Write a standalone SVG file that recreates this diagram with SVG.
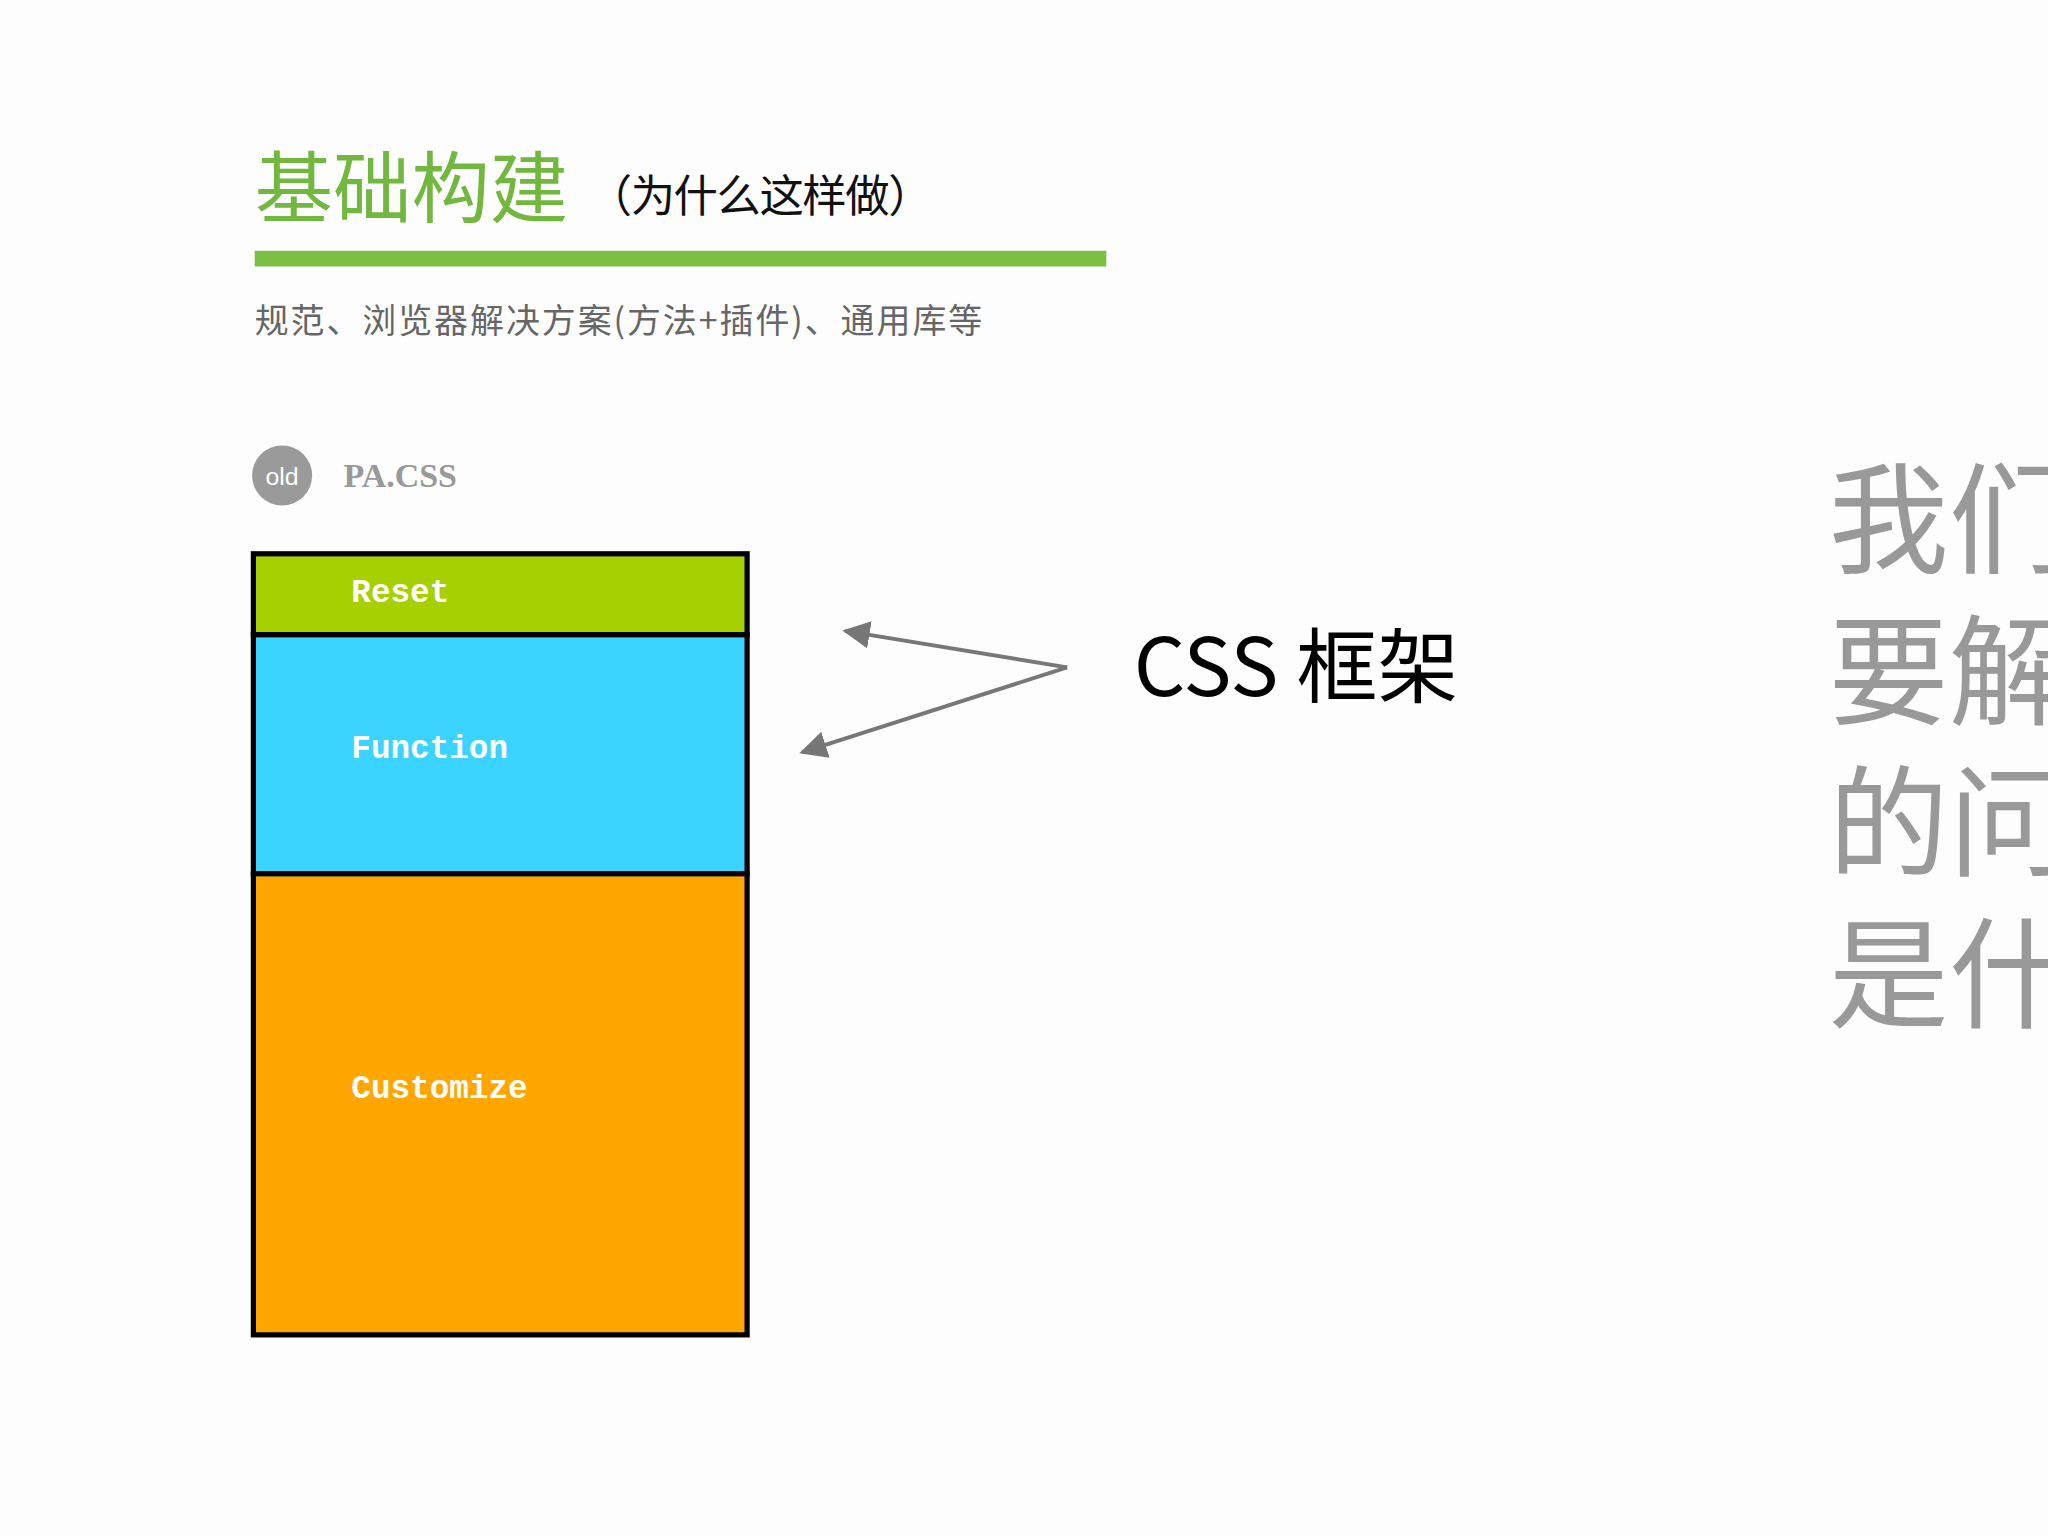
<svg xmlns="http://www.w3.org/2000/svg" width="2048" height="1536" viewBox="0 0 2048 1536">
<style>
.cjk{font-family:"Noto Sans CJK SC","Noto Sans",sans-serif}
.lbl{font-family:"Liberation Mono",monospace;font-weight:bold;fill:#fff;font-size:25px}
.blk{stroke:#000;stroke-width:4}
.conn{stroke:#777;stroke-width:3;fill:none}
</style>
<defs><marker id="ah" viewBox="0 0 10 10" refX="9" refY="5" markerWidth="7" markerHeight="7" orient="auto"><path d="M0,0L10,5L0,10z" fill="#777"/></marker></defs>
<rect width="2048" height="1536" fill="#fdfdfd"/>
<g transform="scale(1.30612)">
<g id="title">
<text x="195" y="166" class="cjk" font-size="60" fill="#72b83e">基础构建</text>
<text x="450" y="162" class="cjk" font-size="34" fill="#111" textLength="264">（为什么这样做）</text>
<rect x="195" y="192" width="652" height="12" fill="#7bc043"/>
<text x="195" y="255" class="cjk" font-size="26" fill="#666" textLength="557">规范、浏览器解决方案(方法+插件)、通用库等</text>
</g>
<g id="badge">
<circle cx="216" cy="364" r="23" fill="#9a9a9a"/>
<text x="216" y="371" text-anchor="middle" font-family="Liberation Sans,sans-serif" font-size="19" fill="#fff">old</text>
<text x="263" y="373" font-family="Liberation Serif,serif" font-weight="bold" font-size="26" fill="#999">PA.CSS</text>
</g>
<g id="reset"><rect x="194" y="424" width="378" height="62" fill="#a6d000" class="blk"/><text x="269" y="461" class="lbl">Reset</text></g>
<g id="function"><rect x="194" y="486" width="378" height="183" fill="#3bd3ff" class="blk"/><text x="269" y="580" class="lbl">Function</text></g>
<g id="customize"><rect x="194" y="669" width="378" height="353" fill="#ffa600" class="blk"/><text x="269" y="841" class="lbl">Customize</text></g>
<g id="connectors">
<path class="conn" d="M817,511L647,483" marker-end="url(#ah)"/>
<path class="conn" d="M817,511L614,576" marker-end="url(#ah)"/>
</g>
<g id="css"><text x="868" y="533" class="cjk" font-size="62" fill="#000">CSS 框架</text></g>
<g id="side" class="cjk" font-size="92" fill="#999">
<text x="1400" y="432">我们</text>
<text x="1400" y="548">要解</text>
<text x="1400" y="664">的问</text>
<text x="1400" y="780">是什</text>
</g>
</g>
</svg>
